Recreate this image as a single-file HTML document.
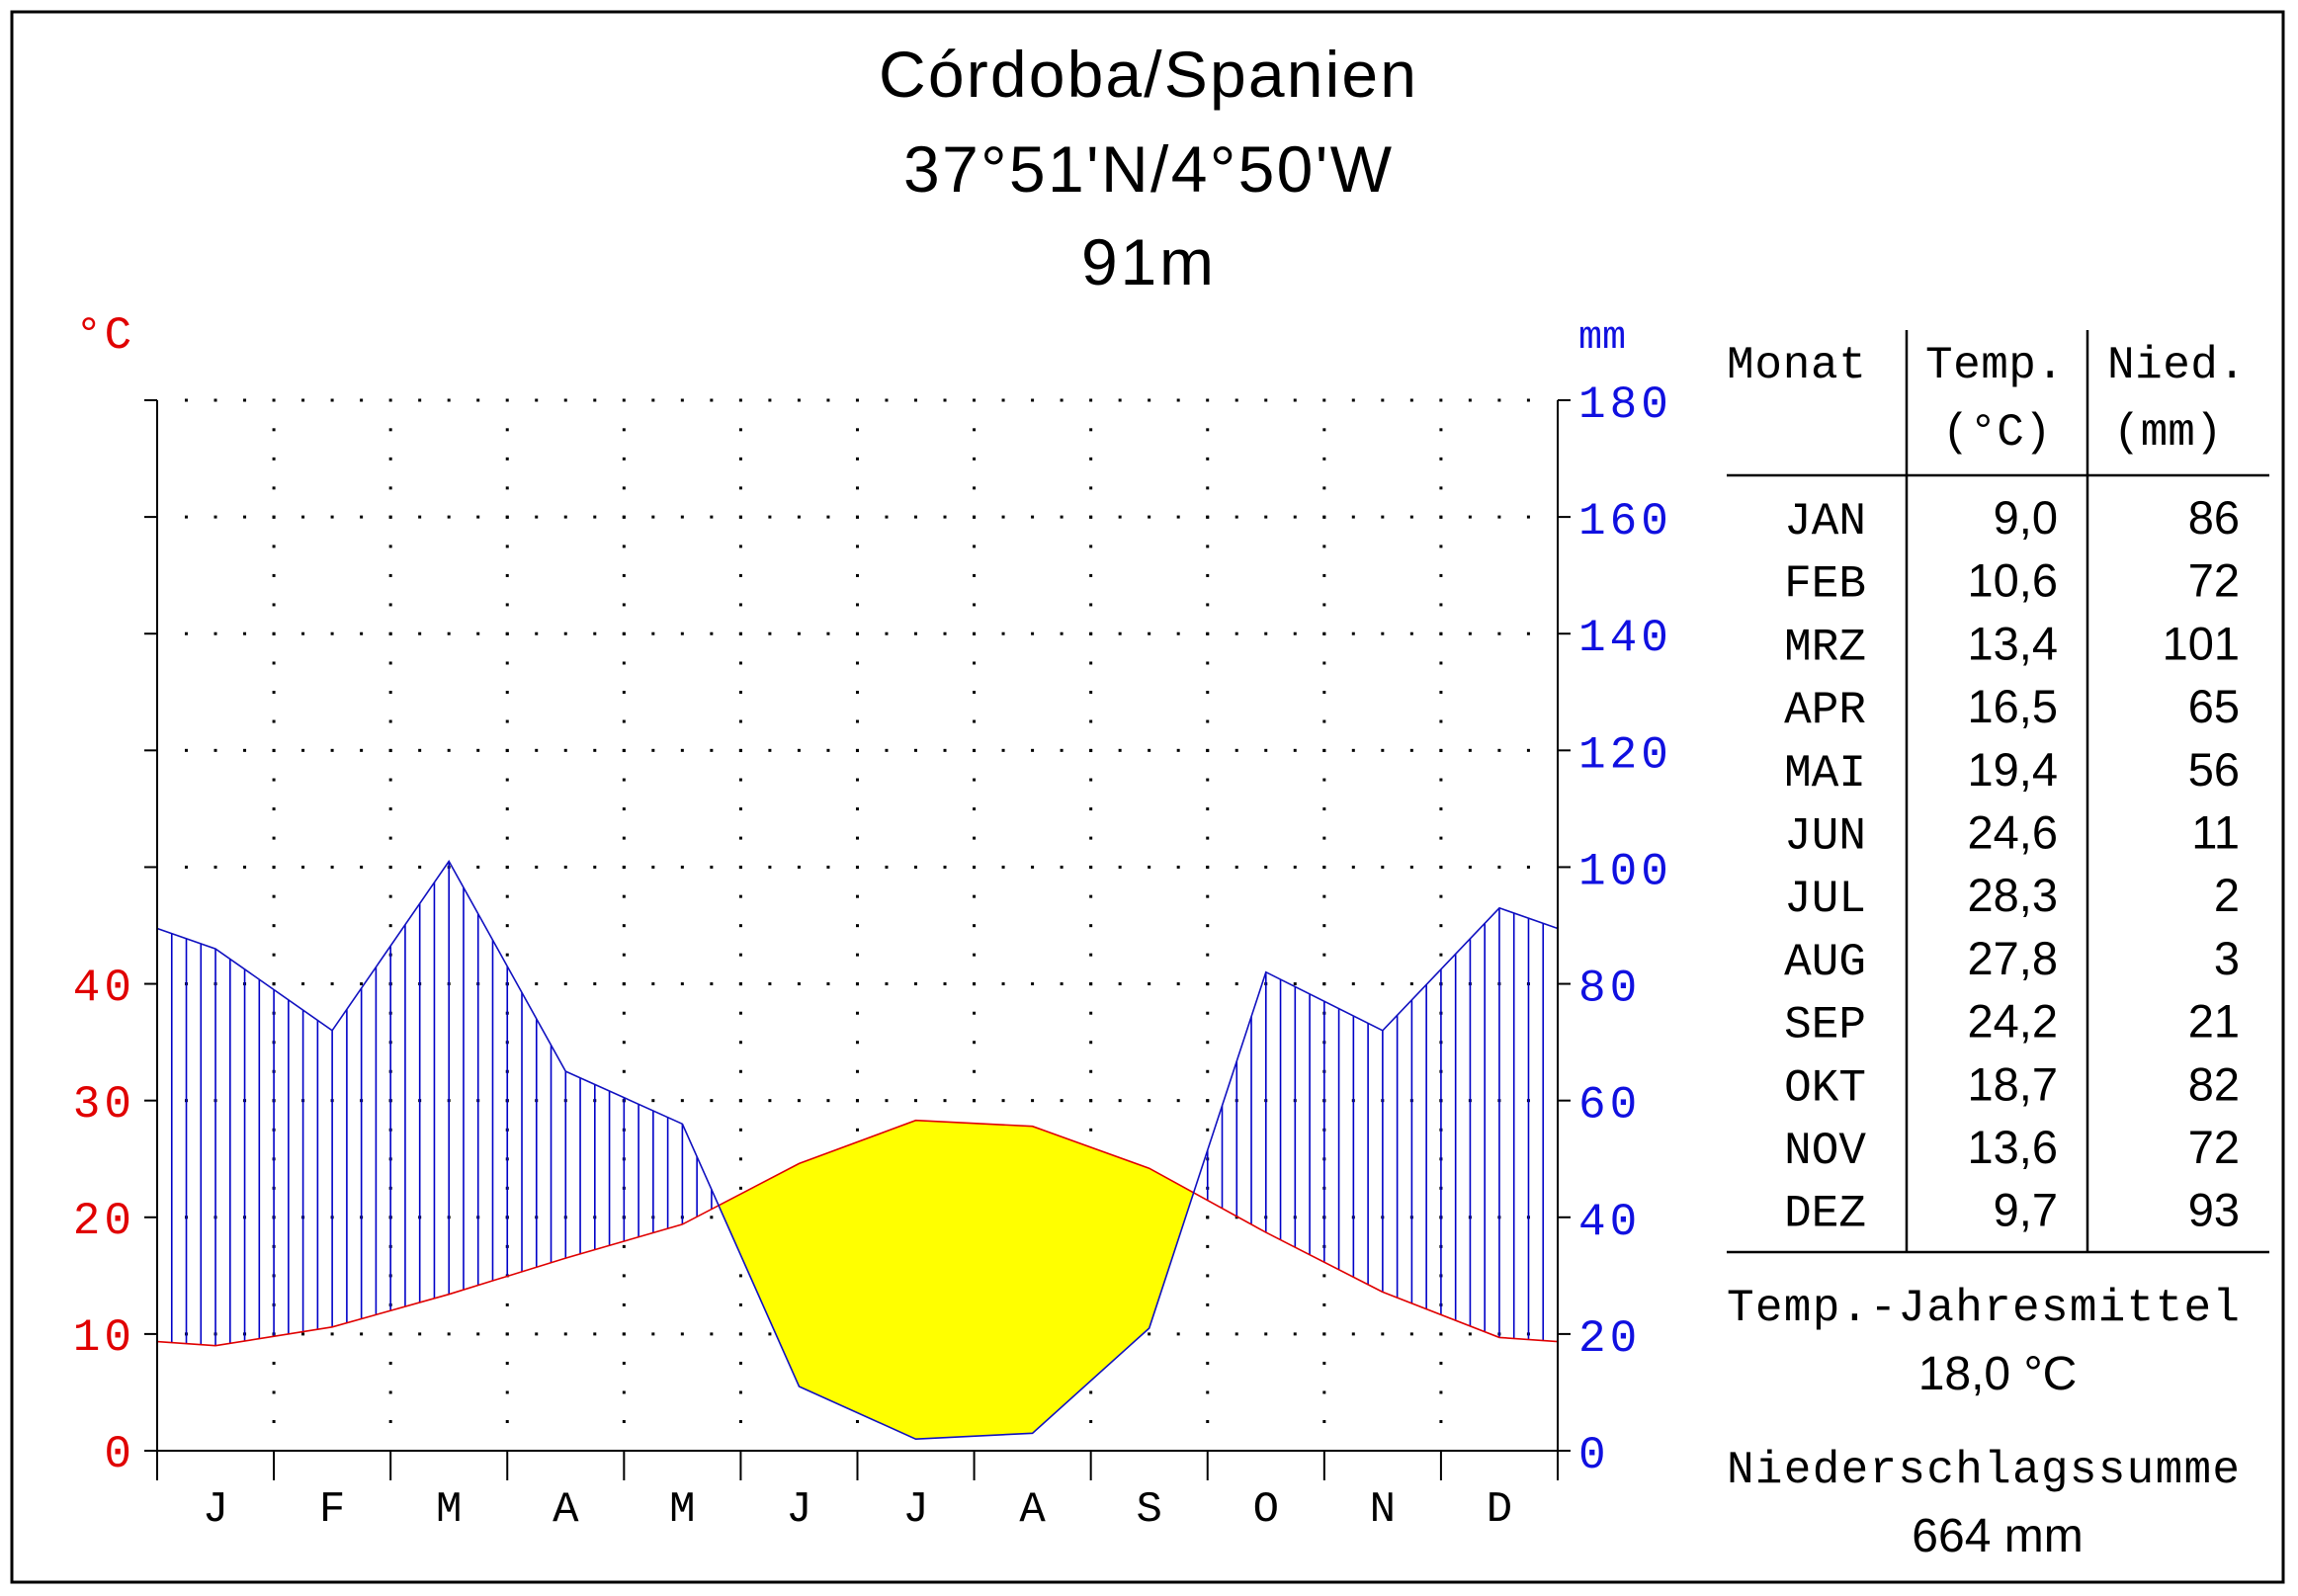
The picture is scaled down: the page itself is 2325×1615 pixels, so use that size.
<!DOCTYPE html>
<html><head><meta charset="utf-8"><style>
html,body{margin:0;padding:0;background:#fff;}
svg{display:block;}
.mono{font-family:"Liberation Mono",monospace;}
.sans{font-family:"Liberation Sans",sans-serif;}
</style></head><body>
<svg id="s" width="2325" height="1615" viewBox="0 0 2325 1615" xmlns="http://www.w3.org/2000/svg">
<rect x="0" y="0" width="2325" height="1615" fill="#fff"/>
<rect x="12" y="12" width="2298" height="1589" fill="none" stroke="#000" stroke-width="3"/>
<g class="sans" font-size="66" text-anchor="middle" fill="#000">
<text x="1161" y="98" textLength="544">Córdoba/Spanien</text>
<text x="1161" y="194" textLength="494">37°51'N/4°50'W</text>
<text x="1161" y="288" textLength="134">91m</text>
</g>
<g id="plot"></g>
<g class="mono" font-size="46" fill="#e00000" text-anchor="end" letter-spacing="4">
<text x="137" y="1484">0</text>
<text x="137" y="1366">10</text>
<text x="137" y="1248">20</text>
<text x="137" y="1130">30</text>
<text x="137" y="1012">40</text>
</g>
<text class="mono" x="76" y="352" font-size="46" fill="#e00000" letter-spacing="2">°C</text>
<text class="mono" x="1597" y="352" font-size="40" fill="#1010e0">mm</text>
<g class="mono" font-size="46" fill="#1010e0" letter-spacing="4" id="rl"></g>
<g class="mono" font-size="44" fill="#000" text-anchor="middle" id="ml"></g>
<!-- table -->
<g stroke="#000" stroke-width="2.5">
<line x1="1929" y1="334" x2="1929" y2="1267"/>
<line x1="2112" y1="334" x2="2112" y2="1267"/>
<line x1="1747" y1="481" x2="2296" y2="481"/>
<line x1="1747" y1="1267" x2="2296" y2="1267"/>
</g>
<g class="mono" font-size="46" fill="#000">
<text x="1747" y="382" textLength="141">Monat</text>
<text x="1948" y="382" textLength="140">Temp.</text>
<text x="2132" y="382" textLength="140">Nied.</text>
<text x="1965" y="450">(°C)</text>
<text x="2138" y="450">(mm)</text>
<text x="1747" y="1336" textLength="519">Temp.-Jahresmittel</text>
<text x="1747" y="1500" textLength="519">Niederschlagssumme</text>
</g>
<g class="sans" font-size="48" fill="#000" text-anchor="middle">
<text x="2021" y="1406">18,0 °C</text>
<text x="2021" y="1570">664 mm</text>
</g>
<g id="tb"></g>
</svg>
<script>
var NS="http://www.w3.org/2000/svg";
function el(p,t,a,txt){var e=document.createElementNS(NS,t);for(var k in a)e.setAttribute(k,a[k]);if(txt!=null)e.textContent=txt;p.appendChild(e);return e;}
var L=159,R=1576,B=1468,T0=405,MW=(R-L)/12,PU=(B-T0)/180;
var Tv=[9.0,10.6,13.4,16.5,19.4,24.6,28.3,27.8,24.2,18.7,13.6,9.7];
var Pv=[86,72,101,65,56,11,2,3,21,82,72,93];
var plot=document.getElementById('plot');
// dots
var i,j,x,y;
for(var k=1;k<=9;k++){y=B-k*20*PU;for(x=L+29.5;x<R-5;x+=29.52)el(plot,'rect',{x:x-1.5,y:y-1.5,width:3,height:3,fill:'#000'});}
for(i=1;i<12;i++){x=L+i*MW;for(y=B-29.5;y>T0+5;y-=29.52)el(plot,'rect',{x:x-1.5,y:y-1.5,width:3,height:3,fill:'#000'});}
// series points
var xs=[L],yt=[],yp=[];
function tY(t){return B-t*2*PU;} function pY(p){return B-p*PU;}
var te=(Tv[0]+Tv[11])/2,pe=(Pv[0]+Pv[11])/2;
yt.push(tY(te));yp.push(pY(pe));
for(i=0;i<12;i++){xs.push(L+MW*(i+0.5));yt.push(tY(Tv[i]));yp.push(pY(Pv[i]));}
xs.push(R);yt.push(tY(te));yp.push(pY(pe));
function interp(arr,xx){for(var q=0;q<xs.length-1;q++){if(xx>=xs[q]&&xx<=xs[q+1]){var f=(xx-xs[q])/(xs[q+1]-xs[q]);return arr[q]+f*(arr[q+1]-arr[q]);}}return arr[arr.length-1];}
// arid polygon(s): build per segment clipped
var top=[],bot=[];var polys=[];var cur=null;
for(i=0;i<xs.length-1;i++){
 var d0=yp[i]-yt[i],d1=yp[i+1]-yt[i+1]; // >0 arid
 var pts=[[xs[i],d0]];
 if(d0*d1<0){var f=d0/(d0-d1);pts.push([xs[i]+f*(xs[i+1]-xs[i]),0]);}
 pts.push([xs[i+1],d1]);
 for(j=0;j<pts.length;j++){var px=pts[j][0],dd=pts[j][1];
  if(dd>0.0001||(cur&&dd>=-0.0001)){if(!cur){cur={t:[],b:[]};}
   cur.t.push([px,interp(yt,px)]);cur.b.push([px,interp(yp,px)]);
   if(dd<=0.0001&&cur.t.length>1){polys.push(cur);cur=null;}}
  else if(dd>=-0.0001&&dd<=0.0001&&!cur){cur={t:[[px,interp(yt,px)]],b:[[px,interp(yp,px)]]};}
 }
}
if(cur)polys.push(cur);
polys.forEach(function(p){var s=p.t.concat(p.b.slice().reverse()).map(function(a){return a[0].toFixed(1)+','+a[1].toFixed(1);}).join(' ');el(plot,'polygon',{points:s,fill:'#ffff00',stroke:'none'});});
// hatching
for(x=L;x<=R+0.5;x+=MW/8){var a=interp(yt,x),b=interp(yp,x);if(b<a-0.5)el(plot,'line',{x1:x,y1:b,x2:x,y2:a,stroke:'#0000c8','stroke-width':1.6});}
function pl(ys,c,w){el(plot,'polyline',{points:xs.map(function(v,q){return v.toFixed(1)+','+ys[q].toFixed(1);}).join(' '),fill:'none',stroke:c,'stroke-width':w});}
pl(yt,'#e00000',1.6);pl(yp,'#1010c0',1.6);
// axes
el(plot,'line',{x1:L,y1:T0,x2:L,y2:B+30,stroke:'#000','stroke-width':2});
el(plot,'line',{x1:R,y1:T0,x2:R,y2:B+30,stroke:'#000','stroke-width':2});
el(plot,'line',{x1:L,y1:B,x2:R,y2:B,stroke:'#000','stroke-width':2});
for(k=0;k<=9;k++){y=B-k*20*PU;el(plot,'line',{x1:L-13,y1:y,x2:L,y2:y,stroke:'#000','stroke-width':2});el(plot,'line',{x1:R,y1:y,x2:R+13,y2:y,stroke:'#000','stroke-width':2});}
for(i=1;i<12;i++){x=L+i*MW;el(plot,'line',{x1:x,y1:B,x2:x,y2:B+30,stroke:'#000','stroke-width':2});}
var rl=document.getElementById('rl');
for(k=0;k<=9;k++){el(rl,'text',{x:1597,y:B-k*20*PU+17},String(k*20));}
var ml=document.getElementById('ml');var ML="JFMAMJJASOND";
for(i=0;i<12;i++)el(ml,'text',{x:L+MW*(i+0.5),y:1539},ML[i]);
var tb=document.getElementById('tb');
var MN=["JAN","FEB","MRZ","APR","MAI","JUN","JUL","AUG","SEP","OKT","NOV","DEZ"];
var TS=["9,0","10,6","13,4","16,5","19,4","24,6","28,3","27,8","24,2","18,7","13,6","9,7"];
for(i=0;i<12;i++){var yy=540+i*63.7;
 el(tb,'text',{x:1888,y:yy,'text-anchor':'end','font-family':'Liberation Mono,monospace','font-size':46},MN[i]);
 el(tb,'text',{x:2082,y:yy,'text-anchor':'end','font-family':'Liberation Sans,sans-serif','font-size':47},TS[i]);
 el(tb,'text',{x:2266,y:yy,'text-anchor':'end','font-family':'Liberation Sans,sans-serif','font-size':47},String(Pv[i]));}
</script>
</body></html>
